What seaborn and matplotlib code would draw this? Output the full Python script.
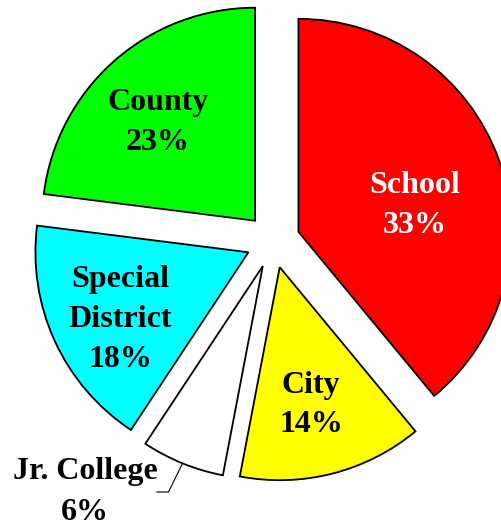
import matplotlib
matplotlib.use("Agg")
import matplotlib.pyplot as plt
import seaborn as sns
import numpy as np

# Data (slice sizes as drawn) and label texts as printed
categories = ["School", "City", "Jr. College", "Special District", "County"]
values = [39, 14, 6.3, 17.7, 23]
label_texts = ["School\n33%", "City\n14%", "Jr. College\n6%", "Special\nDistrict\n18%", "County\n23%"]
colors = ["#FF0000", "#FFFF00", "#FFFFFF", "#00FFFF", "#00FF00"]
text_colors = ["white", "black", "black", "black", "black"]

sns.set_theme(style="white")
plt.rcParams["font.family"] = ["Liberation Serif", "DejaVu Serif"]

W, H = 502, 526
fig = plt.figure(figsize=(W / 100, H / 100), dpi=100)
ax = fig.add_axes([0, 0, 1, 1])

R = 213.0
cx, cy = 273.0, 241.0

wedges, _ = ax.pie(values, colors=colors, startangle=90, counterclock=False,
                   explode=[0.127] * len(values), radius=1.0,
                   wedgeprops=dict(edgecolor="black", linewidth=1.3))

ax.set_xlim(-cx / R, (W - cx) / R)
ax.set_ylim(-(H - cy) / R, cy / R)
ax.set_aspect("auto")
ax.axis("off")

def px(x, y):
    return ((x - cx) / R, (cy - y) / R)

label_pos = [px(415, 206), px(311, 405), px(85, 492), px(120, 320), px(158, 123)]
fs = 23
for i, (lbl, pos) in enumerate(zip(label_texts, label_pos)):
    ax.text(pos[0], pos[1], lbl, ha="center", va="center", fontsize=fs,
            fontweight="bold", color=text_colors[i], linespacing=1.5)

# leader line for Jr. College, from the middle of its arc
w = wedges[2]
mid = np.deg2rad((w.theta1 + w.theta2) / 2)
pxm = w.center[0] + w.r * np.cos(mid)
pym = w.center[1] + w.r * np.sin(mid)
ly = px(0, 492)[1]
ax.plot([pxm, pxm - 0.066, pxm - 0.066 - 0.057], [pym, ly, ly],
        color="black", linewidth=0.8, solid_capstyle="butt")

fig.savefig("out.png", dpi=100)
